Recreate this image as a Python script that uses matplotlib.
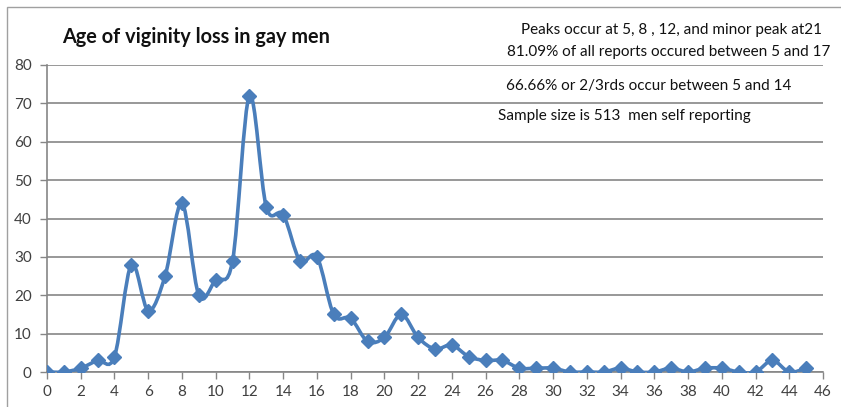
import numpy as np
import matplotlib.pyplot as plt
from matplotlib.path import Path
from matplotlib.patches import PathPatch, Rectangle

plt.rcParams['font.family'] = ['Lato', 'DejaVu Sans']

# reports per age (0..45)
ages = list(range(0, 46))
counts = [0, 0, 1, 3, 4, 28, 16, 25, 44, 20,
          24, 29, 72, 43, 41, 29, 30, 15, 14, 8,
          9, 15, 9, 6, 7, 4, 3, 3, 1, 1,
          1, 0, 0, 0, 1, 0, 0, 1, 0, 1,
          1, 0, 0, 3, 0, 1]

title = "Age of viginity loss in gay men"
notes = [
    "Peaks occur at 5, 8 , 12, and minor peak at21",
    "81.09% of all reports occured between 5 and 17",
    "66.66% or 2/3rds occur between 5 and 14",
    "Sample size is 513  men self reporting",
]

blue = '#4a7ebb'
grey = '#868686'


def smooth_path(x, y):
    # cubic bezier through every point, excel style smoothing
    x = np.asarray(x, float)
    y = np.asarray(y, float)
    verts = [(x[0], y[0])]
    codes = [Path.MOVETO]
    n = len(x)
    for i in range(n - 1):
        p0 = np.array([x[max(i - 1, 0)], y[max(i - 1, 0)]])
        p1 = np.array([x[i], y[i]])
        p2 = np.array([x[i + 1], y[i + 1]])
        p3 = np.array([x[min(i + 2, n - 1)], y[min(i + 2, n - 1)]])
        c1 = p1 + (p2 - p0) / 6.0
        c2 = p2 - (p3 - p1) / 6.0
        verts += [tuple(c1), tuple(c2), tuple(p2)]
        codes += [Path.CURVE4] * 3
    return Path(verts, codes)


fig = plt.figure(figsize=(8.41, 4.07), dpi=100)
fig.patches.append(Rectangle((7 / 841, -0.2), 1.2, 1.2 - 7 / 407,
                             transform=fig.transFigure, fill=False,
                             edgecolor='#a0a0a0', linewidth=1.0))
ax = fig.add_axes([47 / 841, 35 / 407, 776 / 841, 307 / 407])

ax.add_patch(PathPatch(smooth_path(ages, counts), facecolor='none',
                       edgecolor=blue, linewidth=2.6, zorder=3))
ax.plot(ages, counts, linestyle='none', marker='D', markersize=7,
        color=blue, zorder=4)

ax.set_xlim(0, 46)
ax.set_ylim(0, 80)
ax.set_xticks(range(0, 47, 2))
ax.set_yticks(range(0, 81, 10))
ax.yaxis.grid(True, color=grey, linewidth=1.2)
ax.set_axisbelow(True)
for side in ['top', 'right']:
    ax.spines[side].set_visible(False)
for side in ['left', 'bottom']:
    ax.spines[side].set_color(grey)
    ax.spines[side].set_linewidth(1.2)
ax.tick_params(axis='both', colors=grey, length=5, width=1.0,
               labelcolor='#404040', labelsize=11)
ax.tick_params(axis='y', pad=6)
ax.tick_params(axis='x', pad=4)

fig.text(62 / 841, 1 - 37 / 407, title, fontsize=14.3, fontweight='bold',
         color='#111111', va='center', ha='left')

fig.text(822 / 841, 1 - 30 / 407, notes[0], fontsize=11, ha='right',
         va='center', color='#111111')
fig.text(830 / 841, 1 - 52 / 407, notes[1], fontsize=11, ha='right',
         va='center', color='#111111')
fig.text(506 / 841, 1 - 86 / 407, notes[2], fontsize=11, ha='left',
         va='center', color='#111111')
fig.text(498 / 841, 1 - 116 / 407, notes[3], fontsize=11, ha='left',
         va='center', color='#111111')

fig.savefig('out.png', dpi=100)
